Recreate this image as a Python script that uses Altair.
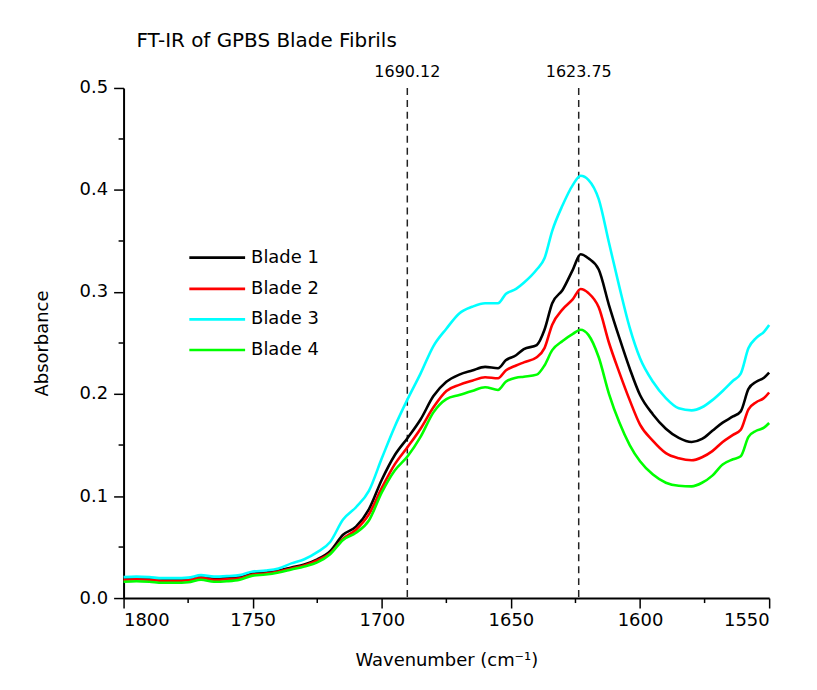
import altair as alt
import pandas as pd

wavenumber = [1800, 1795, 1790, 1785, 1780, 1775, 1770, 1765, 1760, 1755, 1750, 1745, 1740, 1735,
              1730, 1725, 1720, 1715, 1710, 1705, 1700, 1695, 1690, 1685, 1680, 1675, 1670, 1665,
              1660, 1655, 1652, 1648, 1645, 1640, 1637, 1634, 1630, 1626, 1623, 1620, 1616, 1612,
              1608, 1604, 1600, 1595, 1590, 1585, 1580, 1576, 1572, 1568, 1564, 1561, 1558, 1555,
              1552, 1550]

blade1 = [0.019, 0.0195, 0.019, 0.018, 0.018, 0.0185, 0.021, 0.019, 0.0195, 0.0205, 0.024, 0.025, 0.027, 0.030,
          0.033, 0.038, 0.046, 0.062, 0.070, 0.087, 0.116, 0.140, 0.157, 0.175, 0.198, 0.212, 0.219, 0.223,
          0.2266, 0.2253, 0.233, 0.238, 0.244, 0.248, 0.263, 0.289, 0.302, 0.322, 0.337, 0.333, 0.322, 0.287,
          0.255, 0.225, 0.199, 0.180, 0.166, 0.157, 0.153, 0.156, 0.164, 0.172, 0.178, 0.183, 0.205, 0.212,
          0.216, 0.221]

blade2 = [0.018, 0.0185, 0.018, 0.017, 0.017, 0.0175, 0.020, 0.018, 0.0185, 0.0195, 0.023, 0.024, 0.026, 0.029,
          0.032, 0.037, 0.044, 0.058, 0.067, 0.082, 0.108, 0.131, 0.148, 0.166, 0.187, 0.203, 0.209, 0.213,
          0.2165, 0.2155, 0.223, 0.228, 0.231, 0.236, 0.245, 0.268, 0.283, 0.293, 0.303, 0.299, 0.285, 0.250,
          0.221, 0.194, 0.170, 0.154, 0.142, 0.137, 0.135, 0.138, 0.144, 0.153, 0.160, 0.165, 0.185, 0.192,
          0.196, 0.2015]

blade3 = [0.0205, 0.021, 0.0205, 0.0195, 0.0195, 0.020, 0.0225, 0.021, 0.0215, 0.0225, 0.026, 0.027, 0.029, 0.034,
          0.038, 0.045, 0.055, 0.077, 0.089, 0.105, 0.137, 0.168, 0.195, 0.220, 0.247, 0.264, 0.279, 0.2855,
          0.289, 0.289, 0.298, 0.303, 0.309, 0.322, 0.333, 0.360, 0.385, 0.405, 0.414, 0.410, 0.391, 0.348,
          0.305, 0.265, 0.235, 0.212, 0.196, 0.186, 0.184, 0.187, 0.194, 0.203, 0.213, 0.220, 0.245, 0.255,
          0.261, 0.2676]

blade4 = [0.016, 0.0165, 0.016, 0.015, 0.015, 0.0155, 0.018, 0.016, 0.0165, 0.018, 0.022, 0.023, 0.025, 0.028,
          0.031, 0.035, 0.043, 0.057, 0.064, 0.076, 0.1035, 0.125, 0.139, 0.158, 0.182, 0.195, 0.199, 0.203,
          0.2067, 0.204, 0.212, 0.216, 0.217, 0.219, 0.228, 0.243, 0.252, 0.259, 0.263, 0.258, 0.236, 0.200,
          0.172, 0.150, 0.134, 0.121, 0.113, 0.110, 0.1095, 0.113, 0.120, 0.131, 0.136, 0.139, 0.158, 0.164,
          0.167, 0.1716]

series_names = ["Blade 1", "Blade 2", "Blade 3", "Blade 4"]
series_colors = ["#000000", "#FF0000", "#00FFFF", "#00FF00"]
peak_positions = [1690.12, 1623.75]
peak_labels = ["1690.12", "1623.75"]
x_major = [1800, 1750, 1700, 1650, 1600, 1550]
x_minor = [1775, 1725, 1675, 1625, 1575]
y_major = [0.0, 0.1, 0.2, 0.3, 0.4, 0.5]
y_minor = [0.05, 0.15, 0.25, 0.35, 0.45]

FONT = "DejaVu Sans"

rows = []
for name, vals in zip(series_names, [blade1, blade2, blade3, blade4]):
    for w, v in zip(wavenumber, vals):
        rows.append({"Wavenumber": w, "Absorbance": v, "Series": name})
df = pd.DataFrame(rows)

xscale = alt.Scale(domain=[1550, 1800], reverse=True, nice=False)
yscale = alt.Scale(domain=[0, 0.5], nice=False)

lines = alt.Chart(df).mark_line(strokeWidth=2.6, interpolate="monotone").encode(
    x=alt.X("Wavenumber:Q", scale=xscale,
            axis=alt.Axis(values=x_major, format="d", title="Wavenumber (cm⁻¹)", grid=False,
                          tickSize=10, tickWidth=1.5, tickColor="black",
                          domainColor="black", domainWidth=2,
                          labelFont=FONT, labelFontSize=18, labelColor="black", labelPadding=4,
                          titleFont=FONT, titleFontSize=18, titleFontWeight="normal", titleColor="black",
                          titleX=324, titleY=63, titleBaseline="middle", titleAlign="center")),
    y=alt.Y("Absorbance:Q", scale=yscale,
            axis=alt.Axis(values=y_major, format=".1f", title="Absorbance", grid=False,
                          tickSize=10, tickWidth=1.5, tickColor="black",
                          domainColor="black", domainWidth=2,
                          labelFont=FONT, labelFontSize=18, labelColor="black", labelPadding=6,
                          titleFont=FONT, titleFontSize=18, titleFontWeight="normal", titleColor="black",
                          titleX=-81, titleY=256, titleAngle=270, titleBaseline="middle",
                          titleAlign="center")),
    color=alt.Color("Series:N", scale=alt.Scale(domain=series_names, range=series_colors), legend=None),
    order=alt.Order("Series:N"),
)

peaks_df = pd.DataFrame({"pos": peak_positions, "label": peak_labels})
vrules = alt.Chart(peaks_df).mark_rule(color="#222222", strokeWidth=1.5, strokeDash=[7, 5]).encode(
    x=alt.X("pos:Q", scale=xscale),
    y=alt.value(0), y2=alt.value(512),
)
vlabels = alt.Chart(peaks_df).mark_text(font=FONT, fontSize=16, color="black",
                                         align="center", baseline="alphabetic").encode(
    x=alt.X("pos:Q", scale=xscale),
    y=alt.value(-11),
    text="label:N",
)

xminor_df = pd.DataFrame({"pos": x_minor})
xminor = alt.Chart(xminor_df).mark_rule(color="black", strokeWidth=1.5).encode(
    x=alt.X("pos:Q", scale=xscale), y=alt.value(512), y2=alt.value(517))
yminor_df = pd.DataFrame({"pos": y_minor})
yminor = alt.Chart(yminor_df).mark_rule(color="black", strokeWidth=1.5).encode(
    y=alt.Y("pos:Q", scale=yscale), x=alt.value(0), x2=alt.value(-5))

title = alt.Chart(pd.DataFrame({"t": ["FT-IR of GPBS Blade Fibrils"]})).mark_text(
    font=FONT, fontSize=20, color="black", align="left", baseline="alphabetic").encode(
    x=alt.value(13), y=alt.value(-41), text="t:N")

legend_rows = [170.3, 201.7, 232.3, 263.0]
legend_layers = []
for name, color, ly in zip(series_names, series_colors, legend_rows):
    ldf = pd.DataFrame({"name": [name]})
    legend_layers.append(alt.Chart(ldf).mark_rule(color=color, strokeWidth=2.6).encode(
        x=alt.value(66), x2=alt.value(122), y=alt.value(ly)))
    legend_layers.append(alt.Chart(ldf).mark_text(
        font=FONT, fontSize=18, color="black", align="left", baseline="middle").encode(
        x=alt.value(128), y=alt.value(ly), text="name:N"))

chart = alt.layer(vrules, lines, vlabels, xminor, yminor, title, *legend_layers).properties(
    width=648, height=512,
    autosize=alt.AutoSizeParams(type="none"),
    padding={"left": 116, "top": 79, "right": 40, "bottom": 83},
).configure(background="white").configure_view(stroke=None, strokeWidth=0)

chart.save("out.html", embed_options={"renderer": "svg", "actions": False})
